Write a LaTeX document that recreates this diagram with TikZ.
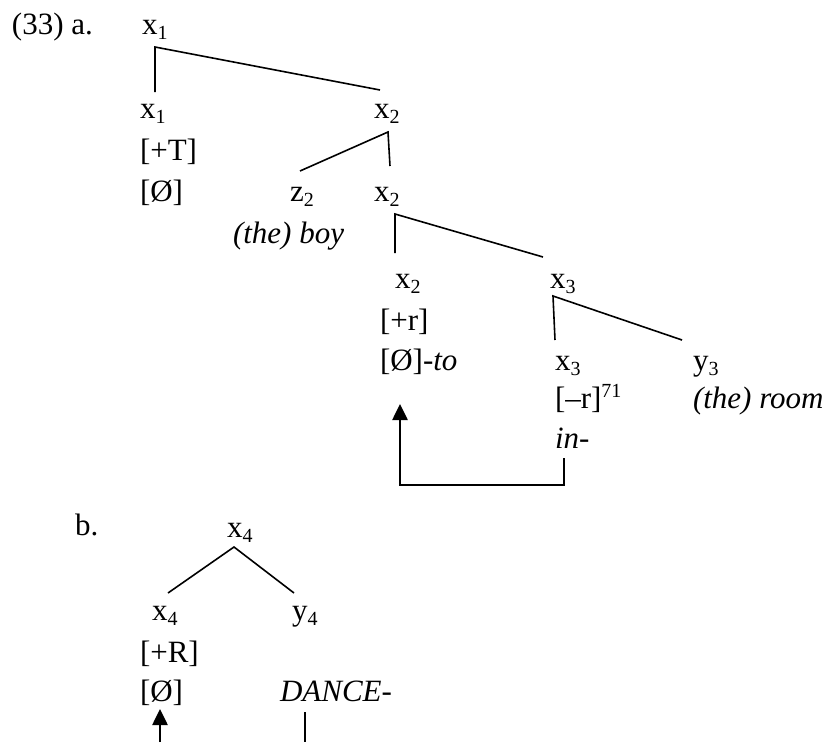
\documentclass[tikz,border=0pt]{standalone}
\usepackage{fontspec}
\setmainfont{Liberation Serif}
\usetikzlibrary{arrows.meta}
\newcommand\sbs[1]{\raisebox{-5pt}{\fontsize{20}{20}\selectfont #1}}
\newcommand\sps[1]{\raisebox{11pt}{\fontsize{20}{20}\selectfont #1}}
\begin{document}
\begin{tikzpicture}[x=1pt,y=-1pt,
  lab/.style={anchor=base west,inner sep=0pt,outer sep=0pt,font=\fontsize{31}{37}\selectfont},
  branch/.style={line width=1.6pt},
  mover/.style={line width=2.6pt},
  movetip/.style={-{Triangle[length=16pt,width=15pt]}}]
\useasboundingbox (0,0) rectangle (825,742);
% part a
\node[lab] (ex) at (12,34) {(33) a.};
\node[lab] (a1) at (142,34) {x\sbs{1}};
\node[lab] (a2) at (140,118) {x\sbs{1}};
\node[lab] (a2f) at (140,160) {[+T]};
\node[lab] (a2e) at (140,201) {[Ø]};
\node[lab] (a3) at (374,118) {x\sbs{2}};
\node[lab] (a4) at (290,201) {z\sbs{2}};
\node[lab] (a4t) at (233,243) {\itshape (the) boy};
\node[lab] (a5) at (374,201) {x\sbs{2}};
\node[lab] (a6) at (395,288) {x\sbs{2}};
\node[lab] (a6f) at (380,330) {[+r]};
\node[lab] (a6e) at (380,370) {[Ø]-\textit{to}};
\node[lab] (a7) at (550,288) {x\sbs{3}};
\node[lab] (a8) at (555,370) {x\sbs{3}};
\node[lab] (a8f) at (555,408) {[–r]\sps{71}};
\node[lab] (a8e) at (555,448) {\itshape in-};
\node[lab] (a9) at (693,370) {y\sbs{3}};
\node[lab] (a9t) at (693,408) {\itshape (the) room};
\coordinate (p1) at (155,47);
\coordinate (p1l) at (155,92);
\coordinate (p1r) at (380,90);
\coordinate (p2) at (388,132);
\coordinate (p2l) at (300,171);
\coordinate (p2r) at (390,166);
\coordinate (p3) at (395,214);
\coordinate (p3l) at (395,253);
\coordinate (p3r) at (543,257);
\coordinate (p4) at (553,296);
\coordinate (p4l) at (555,340);
\coordinate (p4r) at (682,340);
\draw[branch] (p1l) -- (p1) -- (p1r);
\draw[branch] (p2l) -- (p2) -- (p2r);
\draw[branch] (p3l) -- (p3) -- (p3r);
\draw[branch] (p4l) -- (p4) -- (p4r);
\coordinate (m1) at (564,458);
\coordinate (m2) at (564,485);
\coordinate (m3) at (400,485);
\coordinate (m4) at (400,404);
\draw[mover,movetip] (m1) -- (m2) -- (m3) -- (m4);
% part b
\node[lab] (bx) at (75,535) {b.};
\node[lab] (b1) at (227,537) {x\sbs{4}};
\node[lab] (b2) at (152,620) {x\sbs{4}};
\node[lab] (b2f) at (140,662) {[+R]};
\node[lab] (b2e) at (140,701) {[Ø]};
\node[lab] (b3) at (292,620) {y\sbs{4}};
\node[lab] (b3t) at (280,701) {\itshape DANCE-};
\coordinate (q1) at (234,547);
\coordinate (q1l) at (168,593);
\coordinate (q1r) at (294,593);
\draw[branch] (q1l) -- (q1) -- (q1r);
\coordinate (n1) at (160,742);
\coordinate (n2) at (160,709);
\coordinate (n3) at (305,712);
\coordinate (n4) at (305,742);
\draw[mover,movetip] (n1) -- (n2);
\draw[branch] (n3) -- (n4);
\end{tikzpicture}
\end{document}
